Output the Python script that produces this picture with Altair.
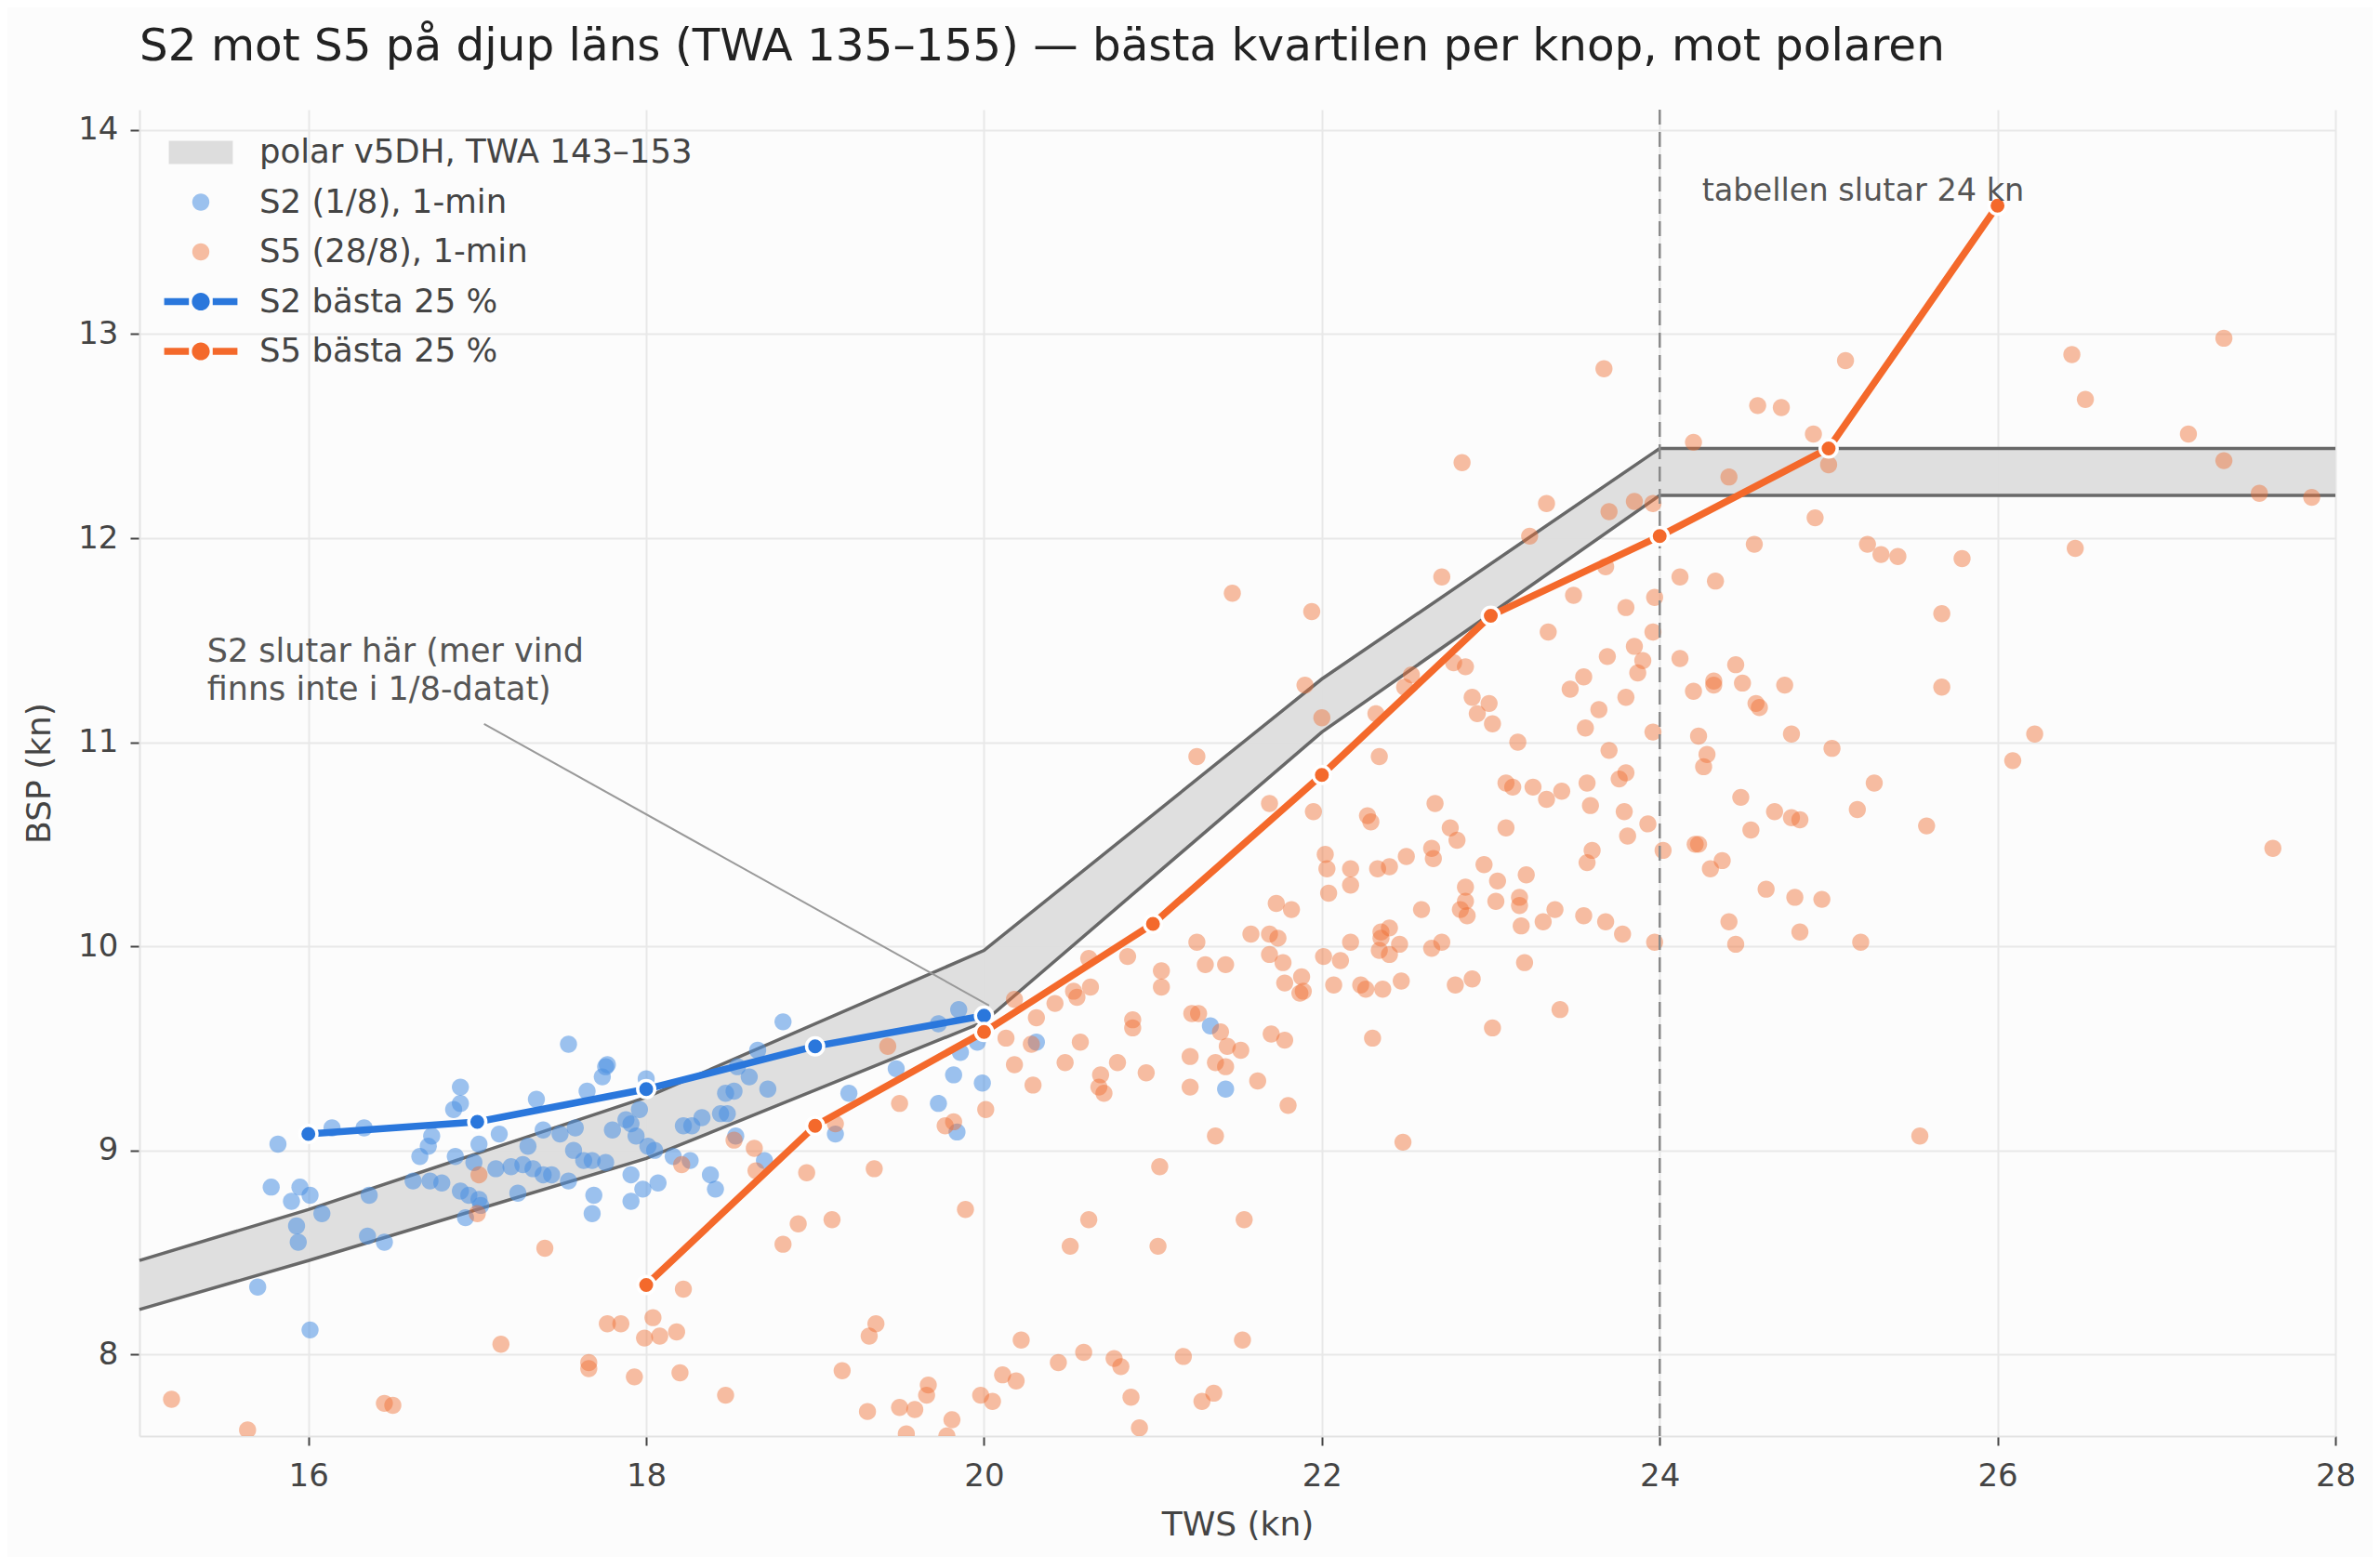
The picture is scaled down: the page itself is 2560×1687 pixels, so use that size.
import altair as alt
import pandas as pd

FONT = "DejaVu Sans"

# polar v5DH, TWA 143-153 (lower / upper edge of the band)
polar_tws = [15, 16, 18, 20, 22, 24, 28]
polar_lo = [8.22, 8.46, 8.96, 9.63, 11.05, 12.21, 12.21]
polar_hi = [8.46, 8.71, 9.26, 9.98, 11.31, 12.44, 12.44]

# best quartile per knot
best_s2_tws = [16, 17, 18, 19, 20]
best_s2_bsp = [9.08, 9.14, 9.30, 9.51, 9.66]
best_s5_tws = [18, 19, 20, 21, 22, 23, 24, 25, 26]
best_s5_bsp = [8.34, 9.12, 9.58, 10.11, 10.84, 11.62, 12.01, 12.44, 13.63]

# 1-min samples, (tws, bsp)
s2_points = [
    (17.54, 9.52), (17.77, 9.42), (17.76, 9.41), (17.74, 9.36), (16.90, 9.31), (17.35, 9.25),
    (17.65, 9.29), (18.00, 9.35), (16.90, 9.23), (16.86, 9.20), (16.14, 9.11), (16.33, 9.11),
    (16.73, 9.07), (16.71, 9.02), (17.01, 9.03), (17.13, 9.08), (17.39, 9.10), (17.49, 9.08),
    (17.58, 9.11), (17.80, 9.10), (17.88, 9.15), (17.91, 9.13), (17.96, 9.20), (17.94, 9.07),
    (18.01, 9.02), (18.05, 9.00), (18.16, 8.97), (18.22, 9.12), (15.82, 9.03), (16.66, 8.97),
    (16.87, 8.97), (17.30, 9.02), (17.57, 9.00), (17.76, 8.94), (16.98, 8.94), (17.11, 8.91),
    (17.20, 8.92), (17.27, 8.93), (17.33, 8.91), (17.39, 8.88), (17.44, 8.88), (17.54, 8.85),
    (17.63, 8.95), (17.68, 8.95), (17.91, 8.88), (17.98, 8.81), (18.07, 8.84), (16.62, 8.85),
    (16.72, 8.85), (16.79, 8.84), (16.90, 8.80), (16.95, 8.78), (17.01, 8.76), (17.02, 8.73),
    (16.93, 8.67), (17.24, 8.79), (17.69, 8.78), (17.68, 8.69), (17.91, 8.75), (15.78, 8.82),
    (15.95, 8.82), (15.90, 8.75), (16.01, 8.78), (16.08, 8.69), (15.93, 8.63), (15.94, 8.55),
    (16.36, 8.78), (16.35, 8.58), (16.45, 8.55), (15.70, 8.33), (16.01, 8.12),
    (18.81, 9.63), (18.66, 9.49), (18.54, 9.41), (18.61, 9.36), (18.72, 9.30), (18.47, 9.28),
    (18.52, 9.29), (18.33, 9.16), (18.27, 9.12), (18.44, 9.18), (18.48, 9.18), (18.53, 9.07),
    (18.26, 8.95), (18.38, 8.88), (18.41, 8.81), (18.70, 8.95), (19.20, 9.28), (19.12, 9.08),
    (19.48, 9.40), (19.73, 9.23), (19.82, 9.37), (19.85, 9.69), (19.73, 9.62), (19.86, 9.48),
    (19.96, 9.53), (19.99, 9.33), (19.84, 9.09), (20.31, 9.53), (21.34, 9.61), (21.43, 9.30),
]

s5_points = [
    (17.01, 8.88), (17.00, 8.69), (17.40, 8.52), (17.14, 8.05), (17.77, 8.15), (17.85, 8.15),
    (18.04, 8.18), (17.99, 8.08), (18.08, 8.09), (18.18, 8.11), (18.22, 8.32), (18.21, 8.93),
    (17.66, 7.96), (17.66, 7.93), (17.93, 7.89), (18.20, 7.91), (15.19, 7.78), (15.64, 7.63),
    (16.45, 7.76), (16.50, 7.75),
    (20.18, 9.74), (20.42, 9.72), (20.53, 9.78), (20.55, 9.75), (20.63, 9.80), (21.05, 9.80),
    (20.31, 9.65), (20.13, 9.55), (20.28, 9.52), (20.57, 9.53), (20.48, 9.43), (20.18, 9.42),
    (20.29, 9.32), (20.79, 9.43), (20.69, 9.37), (20.68, 9.31), (20.71, 9.28), (20.96, 9.38),
    (20.88, 9.64), (20.88, 9.60), (21.22, 9.46), (21.22, 9.31), (21.23, 9.67), (21.27, 9.67),
    (19.43, 9.51), (19.50, 9.23), (19.12, 9.13), (18.52, 9.05), (18.64, 9.01), (18.65, 8.90),
    (18.95, 8.89), (19.35, 8.91), (19.77, 9.12), (19.82, 9.14), (20.01, 9.20), (19.89, 8.71),
    (18.90, 8.64), (19.10, 8.66), (18.81, 8.54), (20.62, 8.66), (20.51, 8.53), (21.03, 8.53),
    (21.04, 8.92), (19.36, 8.15), (19.32, 8.09), (20.22, 8.07), (19.16, 7.92), (18.47, 7.80),
    (19.67, 7.85), (19.66, 7.80), (19.31, 7.72), (19.50, 7.74), (19.59, 7.73), (19.54, 7.61),
    (19.81, 7.68), (19.78, 7.60), (19.98, 7.80), (20.05, 7.77), (20.11, 7.90), (20.19, 7.87),
    (20.44, 7.96), (20.59, 8.01), (20.77, 7.98), (20.81, 7.94), (20.87, 7.79), (20.92, 7.64),
    (21.18, 7.99), (21.29, 7.77), (21.36, 7.81),
    (20.85, 9.95), (20.62, 9.94), (21.05, 9.88),
    (21.78, 9.82), (21.88, 9.85), (21.87, 9.77), (21.89, 9.78), (22.07, 9.81), (22.23, 9.81),
    (22.26, 9.79), (22.36, 9.79), (22.47, 9.83), (22.79, 9.81), (22.89, 9.84), (23.41, 9.69),
    (23.01, 9.60), (22.30, 9.55), (21.40, 9.58), (21.44, 9.51), (21.52, 9.49), (21.37, 9.43),
    (21.43, 9.41), (21.70, 9.57), (21.78, 9.54), (21.62, 9.34), (21.80, 9.22), (21.37, 9.07),
    (22.48, 9.04), (21.54, 8.66), (21.53, 8.07),
    (22.83, 12.37), (23.33, 12.17), (23.70, 12.13), (23.85, 12.18), (23.96, 12.17), (24.41, 12.30),
    (23.23, 12.01), (22.71, 11.81), (21.47, 11.73), (21.94, 11.64), (23.68, 11.86), (23.49, 11.72),
    (24.12, 11.81), (24.33, 11.79), (23.97, 11.71), (23.80, 11.66), (23.34, 11.54), (23.96, 11.54),
    (23.85, 11.47), (23.69, 11.42), (23.90, 11.40), (23.87, 11.34), (24.12, 11.41), (24.45, 11.38),
    (24.32, 11.30), (24.32, 11.28), (24.49, 11.29), (23.55, 11.32), (23.47, 11.26), (23.80, 11.22),
    (24.20, 11.25), (22.78, 11.39), (22.85, 11.37), (22.53, 11.33), (22.49, 11.27), (21.90, 11.28),
    (22.89, 11.22), (22.99, 11.19), (22.92, 11.14), (23.01, 11.09), (22.32, 11.14), (22.00, 11.12),
    (23.64, 11.16), (23.56, 11.07), (23.96, 11.05), (24.23, 11.03), (23.16, 11.00), (23.70, 10.96),
    (24.28, 10.94), (24.26, 10.88), (21.26, 10.93), (22.34, 10.93), (23.80, 10.85), (23.76, 10.82),
    (23.09, 10.80), (23.13, 10.78), (23.25, 10.78), (23.42, 10.76), (23.57, 10.80), (23.33, 10.72),
    (23.59, 10.69), (24.48, 10.73), (21.69, 10.70), (21.95, 10.66), (22.67, 10.70), (22.27, 10.64),
    (22.29, 10.61), (23.79, 10.66), (23.93, 10.60), (22.76, 10.58), (22.80, 10.52), (23.09, 10.58),
    (23.81, 10.54), (24.21, 10.50), (24.23, 10.50), (23.60, 10.47), (23.57, 10.41), (24.02, 10.47),
    (22.65, 10.48), (22.66, 10.43), (22.50, 10.44), (22.02, 10.45), (22.03, 10.38), (22.17, 10.38),
    (22.33, 10.38), (22.40, 10.39), (24.37, 10.42), (24.30, 10.38), (22.96, 10.40), (23.21, 10.35),
    (23.04, 10.32), (22.17, 10.30), (22.04, 10.26), (22.85, 10.29), (23.17, 10.24), (23.17, 10.20),
    (23.03, 10.22), (22.85, 10.22), (22.82, 10.18), (22.86, 10.15), (22.59, 10.18), (23.38, 10.18),
    (23.31, 10.12), (23.55, 10.15), (23.68, 10.12), (23.78, 10.06), (23.18, 10.10), (21.73, 10.21),
    (21.82, 10.18), (24.41, 10.12), (24.45, 10.01), (21.58, 10.06), (21.69, 10.06), (21.74, 10.04),
    (21.26, 10.02), (22.17, 10.02), (22.35, 10.07), (22.40, 10.09), (22.35, 10.04), (22.46, 10.01),
    (22.65, 9.99), (22.71, 10.02), (23.97, 10.02), (22.34, 9.98), (22.40, 9.96), (22.01, 9.95),
    (22.11, 9.93), (21.69, 9.96), (21.77, 9.92), (21.31, 9.91), (21.43, 9.91), (23.20, 9.92),
    (25.10, 12.87), (24.58, 12.65), (24.72, 12.64), (24.91, 12.51), (25.00, 12.36), (24.92, 12.10),
    (24.56, 11.97), (25.23, 11.97), (25.31, 11.92), (25.41, 11.91), (25.79, 11.90), (25.67, 11.63),
    (24.74, 11.28), (24.57, 11.19), (24.59, 11.17), (25.67, 11.27), (24.78, 11.04), (25.02, 10.97),
    (26.22, 11.04), (26.09, 10.91), (25.27, 10.80), (24.68, 10.66), (24.78, 10.63), (24.83, 10.62),
    (25.17, 10.67), (24.54, 10.57), (25.58, 10.59), (27.63, 10.48), (24.63, 10.28), (24.80, 10.24),
    (24.96, 10.23), (26.44, 12.90), (26.52, 12.68), (27.34, 12.98), (27.13, 12.51), (27.34, 12.38),
    (27.55, 12.22), (27.86, 12.20), (26.46, 11.95), (24.83, 10.07), (25.19, 10.02), (25.54, 9.07),
    (23.67, 12.83), (24.20, 12.47),
]

series = ["polar v5DH, TWA 143–153", "S2 (1/8), 1-min", "S5 (28/8), 1-min",
          "S2 bästa 25 %", "S5 bästa 25 %"]
series_colors = ["#dddddd", "rgba(74,144,226,0.55)", "rgba(239,111,51,0.45)",
                 "#2a77dc", "#f4692b"]
dot = "M0.46,0A0.46,0.46 0 1,1 -0.46,0A0.46,0.46 0 1,1 0.46,0Z"
line_dot = ("M-1.97,-0.19H-0.64V0.19H-1.97Z M0.64,-0.19H1.97V0.19H0.64Z "
            "M0.48,0A0.48,0.48 0 1,1 -0.48,0A0.48,0.48 0 1,1 0.48,0Z")
series_shapes = ["M-1.72,-0.62H1.72V0.62H-1.72Z", dot, dot, line_dot, line_dot]

title = "S2 mot S5 på djup läns (TWA 135–155) — bästa kvartilen per knop, mot polaren"

polar = pd.DataFrame({"tws": polar_tws, "lo": polar_lo, "hi": polar_hi})
best_s2 = pd.DataFrame({"tws": best_s2_tws, "bsp": best_s2_bsp})
best_s5 = pd.DataFrame({"tws": best_s5_tws, "bsp": best_s5_bsp})
pts = pd.concat([
    pd.DataFrame(s2_points, columns=["tws", "bsp"]).assign(serie=series[1]),
    pd.DataFrame(s5_points, columns=["tws", "bsp"]).assign(serie=series[2]),
])

XS = alt.Scale(domain=[15, 28], nice=False, zero=False)
YS = alt.Scale(domain=[7.6, 14.1], nice=False, zero=False)
axis_style = dict(grid=True, gridColor="#e8e8e8", gridWidth=2, domainColor="#e3e3e3",
                  domainWidth=2, tickColor="#444", tickSize=10, tickWidth=2,
                  labelFontSize=34, labelColor="#444", labelFont=FONT, titleFont=FONT,
                  titleFontSize=36, titleColor="#444", titleFontWeight="normal")
XA = alt.Axis(values=list(range(16, 29, 2)), labelPadding=16, titlePadding=18,
              labelFlush=False, **axis_style)
YA = alt.Axis(values=list(range(8, 15)), labelPadding=13, titlePadding=22, **axis_style)


def xq(field="tws"):
    return alt.X(f"{field}:Q", scale=XS, axis=XA, title="TWS (kn)")


def yq(field="bsp"):
    return alt.Y(f"{field}:Q", scale=YS, axis=YA, title="BSP (kn)")


leg = alt.Legend(title=None, orient="none", legendX=46, legendY=26, symbolSize=1600,
                 labelFontSize=35.5, labelFont=FONT, labelColor="#444", labelOffset=43,
                 rowPadding=14.5, padding=0, labelLimit=1200, symbolStrokeWidth=0)

band = alt.Chart(polar).mark_area(color="#dddddd", opacity=0.95).encode(
    x=xq(), y=yq("lo"), y2="hi:Q")
band_hi = alt.Chart(polar).mark_line(color="#686868", strokeWidth=3.5).encode(x=xq(), y=yq("hi"))
band_lo = alt.Chart(polar).mark_line(color="#686868", strokeWidth=3.5).encode(x=xq(), y=yq("lo"))

scatter = alt.Chart(pts).mark_point(filled=True, size=1600, strokeWidth=0, opacity=1,
                                    clip=True).encode(
    x=xq(), y=yq(),
    color=alt.Color("serie:N", scale=alt.Scale(domain=series, range=series_colors), legend=leg),
    shape=alt.Shape("serie:N", scale=alt.Scale(domain=series, range=series_shapes), legend=leg),
)

rule24 = alt.Chart(pd.DataFrame({"tws": [24]})).mark_rule(
    color="#8a8a8a", strokeWidth=2.5, strokeDash=[16, 8]).encode(x=xq())

s2_line = alt.Chart(best_s2).mark_line(color="#2a77dc", strokeWidth=7.5).encode(x=xq(), y=yq())
s2_dots = alt.Chart(best_s2).mark_point(filled=True, size=340, color="#2a77dc", opacity=1,
                                        stroke="white", strokeWidth=3.5).encode(x=xq(), y=yq())
s5_line = alt.Chart(best_s5).mark_line(color="#f4692b", strokeWidth=7.5).encode(x=xq(), y=yq())
s5_dots = alt.Chart(best_s5).mark_point(filled=True, size=340, color="#f4692b", opacity=1,
                                        stroke="white", strokeWidth=3.5).encode(x=xq(), y=yq())

note_line = alt.Chart(pd.DataFrame({"tws": [17.04], "bsp": [11.09], "tws2": [20.03], "bsp2": [9.71]})
                      ).mark_rule(color="#9a9a9a", strokeWidth=2).encode(
    x=xq(), y=yq(), x2="tws2:Q", y2="bsp2:Q")
note_s2 = alt.Chart(pd.DataFrame({"tws": [15.40], "bsp": [11.52],
                                  "txt": ["S2 slutar här (mer vind\nfinns inte i 1/8-datat)"]})
                    ).mark_text(align="left", baseline="top", lineBreak="\n", lineHeight=41,
                                fontSize=35, font=FONT, color="#555").encode(
    x=xq(), y=yq(), text="txt:N")
note_24 = alt.Chart(pd.DataFrame({"tws": [24.25], "bsp": [13.70], "txt": ["tabellen slutar 24 kn"]})
                    ).mark_text(align="left", baseline="middle", fontSize=33.5, font=FONT,
                                color="#555").encode(x=xq(), y=yq(), text="txt:N")

chart = alt.layer(
    band, band_hi, band_lo, scatter, rule24, note_line,
    s2_line, s2_dots, s5_line, s5_dots, note_s2, note_24,
).properties(
    width=2362, height=1427,
    title=alt.Title(title, anchor="start", fontSize=48.4, font=FONT, fontWeight="normal",
                    color="#222", offset=41, frame="group"),
    autosize=alt.AutoSizeParams(type="none"),
    padding={"left": 142, "top": 110, "right": 40, "bottom": 130},
).configure(background="#fcfcfc").configure_view(stroke=None)

chart.save("out.html", embed_options={"renderer": "svg", "actions": False})
